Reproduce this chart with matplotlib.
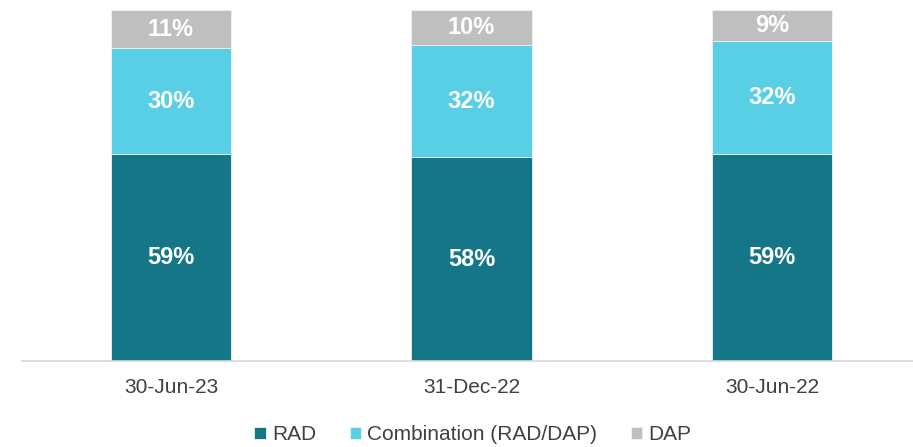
import matplotlib
matplotlib.use("Agg")
import matplotlib.pyplot as plt
import numpy as np

categories = ["30-Jun-23", "31-Dec-22", "30-Jun-22"]
rad = [59, 58, 59]
combination = [30, 32, 32]
dap = [11, 10, 9]
series_names = ["RAD", "Combination (RAD/DAP)", "DAP"]
colors = ["#157687", "#59CFE6", "#BFBFBF"]

plt.rcParams['font.family'] = ['Liberation Sans', 'DejaVu Sans']

fig = plt.figure(figsize=(9.13, 4.47), dpi=100)
ax = fig.add_axes([0.024, 0.192, 0.976, 0.786])

x = np.arange(len(categories))
bottom = np.zeros(len(categories))
for vals, name, col in zip([rad, combination, dap], series_names, colors):
    vals = np.array(vals, dtype=float)
    ax.bar(x, vals, 0.40, bottom=bottom, color=col, label=name,
           edgecolor="#F2F2F2", linewidth=0.6)
    for xi, b, v in zip(x, bottom, vals):
        ax.text(xi, b + v / 2, f"{int(v)}%", ha="center", va="center",
                color="white", fontsize=17, fontweight="bold")
    bottom += vals

ax.set_xlim(-0.496, 2.469)
ax.set_ylim(0, 100)
ax.set_yticks([])
ax.set_xticks(x)
ax.set_xticklabels(categories, fontsize=15, color="#404040")
ax.tick_params(axis="x", length=0, pad=12)
for s in ["top", "right", "left"]:
    ax.spines[s].set_visible(False)
ax.spines["bottom"].set_color("#D9D9D9")
ax.spines["bottom"].set_linewidth(1.2)

leg = fig.legend(loc="center", bbox_to_anchor=(0.518, 0.027), ncol=3, frameon=False,
                 fontsize=15, handlelength=0.55, handleheight=0.55, handletextpad=0.3,
                 columnspacing=1.6, borderpad=0)
for t in leg.get_texts():
    t.set_color("#404040")

fig.savefig("out.png", dpi=100)
